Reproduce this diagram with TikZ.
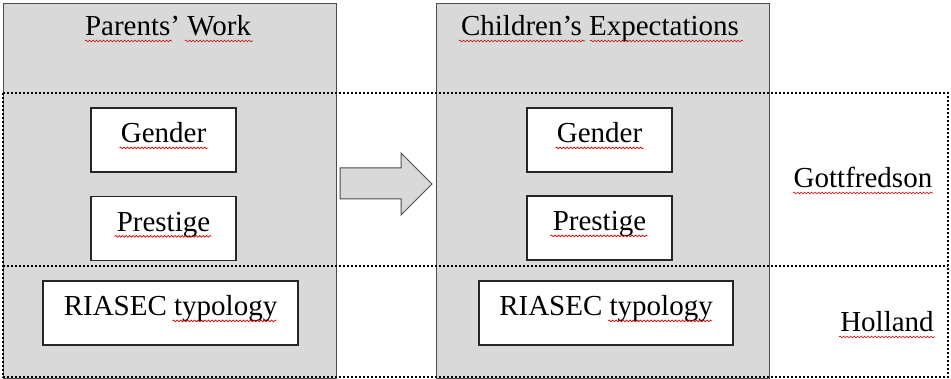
\documentclass[tikz,border=0pt]{standalone}
\usepackage{fontspec}
\setmainfont{Liberation Serif}
\usetikzlibrary{decorations.pathmorphing}
\definecolor{colgray}{RGB}{217,217,217}
\newcommand\diagfont{\fontsize{29}{34}\selectfont}
\tikzset{
  colbox/.style={draw=black!70,fill=colgray,line width=1.3pt,anchor=north west,
    inner sep=0pt,minimum width=333pt,minimum height=375pt},
  itembox/.style={draw=black!85,fill=white,line width=1.2pt,minimum height=64pt,
    font=\diagfont,text height=1.5ex,text depth=.25ex},
  txt/.style={font=\diagfont,anchor=base,inner sep=0pt},
  bandline/.style={line width=2pt,dash pattern=on 2pt off 2pt},
  spell/.style={red!85!black,line width=0.6pt,decorate,
    decoration={snake,amplitude=0.9pt,segment length=3.5pt}}
}

\begin{document}
\begin{tikzpicture}[x=1pt,y=-1pt]
    \useasboundingbox (0,0) rectangle (951,379);

    % the two columns
    \node[colbox] (pcol) at (3,3) {};
    \node[colbox] (ccol) at (436,3) {};

    % theory bands
    \draw[bandline] (3,93) rectangle (948,377);
    \draw[bandline,line width=2.6pt] (3,266) -- (948,266);

    \node[txt] (pw) at (168,36) {Parents’ Work};
    \node[txt] (ce) at (600,36) {Children’s Expectations};

    \node[itembox,minimum width=145pt] (pg) at (163.5,140) {Gender};
    \node[itembox,minimum width=145pt] (pp) at (163.5,228.5) {Prestige};
    \node[itembox,minimum width=255pt] (pr) at (170.5,313) {RIASEC typology};
    \node[itembox,minimum width=145pt] (cg) at (599.5,140) {Gender};
    \node[itembox,minimum width=145pt] (cp) at (599.5,228) {Prestige};
    \node[itembox,minimum width=254pt] (cr) at (606,313) {RIASEC typology};

    \node[txt] (gt) at (863,188) {Gottfredson};
    \node[txt] (ho) at (887,332) {Holland};

    % block arrow
    \draw[draw=black!70,fill=colgray,line width=1pt] (340,168) -- (401,168) -- (401,153)
      -- (432,184) -- (401,215) -- (401,199) -- (340,199) -- cycle;

    % spell-check marks
    \foreach \n/\a/\b in {pw/-83/4, pw/17/85, ce/-141/-15, ce/-10/143, pg/-44/44,
      pp/-49/48, pr/2/106, cg/-44/44, cp/-49/48, cr/2/106, gt/-70/70, ho/-48/48}
      \draw[spell] ([xshift=\a pt,yshift=-5pt]\n.base) -- ([xshift=\b pt,yshift=-5pt]\n.base);
\end{tikzpicture}
\end{document}
